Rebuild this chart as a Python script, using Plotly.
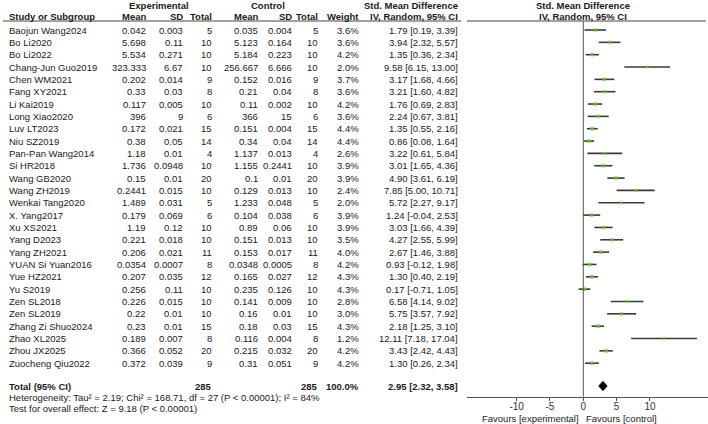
import plotly.graph_objects as go

studies = ["Baojun Wang2024", "Bo Li2020", "Bo Li2022", "Chang-Jun Guo2019", "Chen WM2021",
           "Fang XY2021", "Li Kai2019", "Long Xiao2020", "Luv LT2023", "Niu SZ2019",
           "Pan-Pan Wang2014", "Si HR2018", "Wang GB2020", "Wang ZH2019", "Wenkai Tang2020",
           "X. Yang2017", "Xu XS2021", "Yang D2023", "Yang ZH2021", "YUAN Si Yuan2016",
           "Yue HZ2021", "Yu S2019", "Zen SL2018", "Zen SL2019", "Zhang Zi Shuo2024",
           "Zhao XL2025", "Zhou JX2025", "Zuocheng Qiu2022"]
exp_mean = ["0.042", "5.698", "5.534", "323.333", "0.202", "0.33", "0.117", "396", "0.172", "0.38",
            "1.18", "1.736", "0.15", "0.2441", "1.489", "0.179", "1.19", "0.221", "0.206", "0.0354",
            "0.207", "0.256", "0.226", "0.22", "0.23", "0.189", "0.366", "0.372"]
exp_sd = ["0.003", "0.11", "0.271", "6.67", "0.014", "0.03", "0.005", "9", "0.021", "0.05",
          "0.01", "0.0948", "0.01", "0.015", "0.031", "0.069", "0.12", "0.018", "0.021", "0.0007",
          "0.035", "0.11", "0.015", "0.01", "0.01", "0.007", "0.052", "0.039"]
exp_n = [5, 10, 10, 10, 9, 8, 10, 6, 15, 14, 4, 10, 20, 10, 5, 6, 10, 10, 11, 8, 12, 10, 10, 10, 15, 8, 20, 9]
ctl_mean = ["0.035", "5.123", "5.184", "256.667", "0.152", "0.21", "0.11", "366", "0.151", "0.34",
            "1.137", "1.155", "0.1", "0.129", "1.233", "0.104", "0.89", "0.151", "0.153", "0.0348",
            "0.165", "0.235", "0.141", "0.16", "0.18", "0.116", "0.215", "0.31"]
ctl_sd = ["0.004", "0.164", "0.223", "6.666", "0.016", "0.04", "0.002", "15", "0.004", "0.04",
          "0.013", "0.2441", "0.01", "0.013", "0.048", "0.038", "0.06", "0.013", "0.017", "0.0005",
          "0.027", "0.126", "0.009", "0.01", "0.03", "0.004", "0.032", "0.051"]
ctl_n = [5, 10, 10, 10, 9, 8, 10, 6, 15, 14, 4, 10, 20, 10, 5, 6, 10, 10, 11, 8, 12, 10, 10, 10, 15, 8, 20, 9]
weight = [3.6, 3.6, 4.2, 2.0, 3.7, 3.6, 4.2, 3.6, 4.4, 4.4, 2.6, 3.9, 3.9, 2.4, 2.0, 3.9, 3.9, 3.5,
          4.0, 4.2, 4.3, 4.3, 2.8, 3.0, 4.3, 1.2, 4.2, 4.2]
smd = [1.79, 3.94, 1.35, 9.58, 3.17, 3.21, 1.76, 2.24, 1.35, 0.86, 3.22, 3.01, 4.90, 7.85, 5.72,
       1.24, 3.03, 4.27, 2.67, 0.93, 1.30, 0.17, 6.58, 5.75, 2.18, 12.11, 3.43, 1.30]
ci_lo = [0.19, 2.32, 0.36, 6.15, 1.68, 1.60, 0.69, 0.67, 0.55, 0.08, 0.61, 1.65, 3.61, 5.00, 2.27,
         -0.04, 1.66, 2.55, 1.46, -0.12, 0.40, -0.71, 4.14, 3.57, 1.25, 7.18, 2.42, 0.26]
ci_hi = [3.39, 5.57, 2.34, 13.00, 4.66, 4.82, 2.83, 3.81, 2.16, 1.64, 5.84, 4.36, 6.19, 10.71, 9.17,
         2.53, 4.39, 5.99, 3.88, 1.98, 2.19, 1.05, 9.02, 7.92, 3.10, 17.04, 4.43, 2.34]
total_exp_n = 285
total_ctl_n = 285
total_weight = "100.0%"
total_smd, total_lo, total_hi = 2.95, 2.32, 3.58
heterogeneity = "Heterogeneity: Tau² = 2.19; Chi² = 168.71, df = 27 (P < 0.00001); I² = 84%"
overall = "Test for overall effect: Z = 9.18 (P < 0.00001)"
tick_vals = [-10, -5, 0, 5, 10]
tick_text = ["-10", "-5", "0", "5", "10"]

W, H = 708, 424
FONT = "Liberation Sans, Arial, sans-serif"
FS = 9.5
TXT = "#1a1a1a"
ROW0, DY = 30.0, 12.34  # pixel of first row, row spacing


def row_of(py):
    return (py - ROW0) / DY


n = len(studies)
rows = list(range(n))
total_row = row_of(386)

fig = go.Figure()

# CI lines
lx, ly = [], []
for i in rows:
    lx += [ci_lo[i], ci_hi[i], None]
    ly += [i, i, None]
fig.add_trace(go.Scatter(x=lx, y=ly, mode="lines", line=dict(color="#3a3a3a", width=1.6),
                         hoverinfo="skip", showlegend=False))
# point estimates
fig.add_trace(go.Scatter(x=smd, y=rows, mode="markers",
                         marker=dict(symbol="square", color="#66cc33",
                                     size=[2.2 + 0.35 * w for w in weight], line=dict(width=0)),
                         showlegend=False))
# diamond
hh = 0.37
fig.add_trace(go.Scatter(x=[total_lo, total_smd, total_hi, total_smd, total_lo],
                         y=[total_row, total_row - hh, total_row, total_row + hh, total_row],
                         mode="lines", fill="toself", fillcolor="black",
                         line=dict(color="black", width=1), showlegend=False))

ann = []


def add(text, px, row, anchor="right", bold=False, yref="y"):
    ann.append(dict(text=f"<b>{text}</b>" if bold else text, x=px / W, xref="paper",
                    y=row, yref=yref, xanchor=anchor, yanchor="middle", showarrow=False,
                    borderpad=0, font=dict(family=FONT, size=FS, color=TXT)))


cols = [(exp_mean, 146.7), (exp_sd, 183.7), (exp_n, 212.7), (ctl_mean, 259.3),
        (ctl_sd, 292.7), (ctl_n, 319), ([f"{w:.1f}%" for w in weight], 360),
        ([f"{s:.2f} [{l:.2f}, {h:.2f}]" for s, l, h in zip(smd, ci_lo, ci_hi)], 458.7)]
for i in rows:
    add(studies[i], 8, i, anchor="left")
    for vals, px in cols:
        add(str(vals[i]), px, i)

# headers
hr1, hr2 = row_of(5), row_of(16.5)
add("Experimental", 159, hr1, anchor="center", bold=True)
add("Control", 267.5, hr1, anchor="center", bold=True)
add("Std. Mean Difference", 458.7, hr1, bold=True)
add("Std. Mean Difference", 583.3, hr1, anchor="center", bold=True)
add("Study or Subgroup", 8, hr2, anchor="left", bold=True)
for lab, px in [("Mean", 146.7), ("SD", 183.7), ("Total", 212.7), ("Mean", 259.3), ("SD", 292.7),
                ("Total", 319), ("Weight", 360), ("IV, Random, 95% CI", 458.7)]:
    add(lab, px, hr2, bold=True)
add("IV, Random, 95% CI", 583.3, hr2, anchor="center", bold=True)

# totals
add("Total (95% CI)", 8, total_row, anchor="left", bold=True)
add(str(total_exp_n), 212.7, total_row, bold=True)
add(str(total_ctl_n), 319, total_row, bold=True)
add(total_weight, 360, total_row, bold=True)
add(f"{total_smd:.2f} [{total_lo:.2f}, {total_hi:.2f}]", 458.7, total_row, bold=True)
add(heterogeneity, 8, row_of(397), anchor="left")
add(overall, 8, row_of(408), anchor="left")
add("Favours [experimental]", 579.5, row_of(418.5))
add("Favours [control]", 585, row_of(418.5), anchor="left")

axis_py = 396.7
head_py = 21
x_left_px, x_right_px, zero_px, ppu = 467.0, 708.0, 583.3, 6.667
shapes = [
    dict(type="line", xref="paper", yref="paper", x0=3 / W, x1=461 / W,
         y0=(H - head_py) / H, y1=(H - head_py) / H, line=dict(color="#444", width=1)),
    dict(type="line", xref="paper", yref="paper", x0=467 / W, x1=706 / W,
         y0=(H - head_py) / H, y1=(H - head_py) / H, line=dict(color="#444", width=1)),
    dict(type="line", xref="x", yref="paper", x0=0, x1=0,
         y0=(H - axis_py) / H, y1=(H - head_py) / H, line=dict(color="#555", width=1)),
]

fig.update_layout(
    width=W, height=H, margin=dict(l=0, r=0, t=0, b=0),
    paper_bgcolor="white", plot_bgcolor="rgba(0,0,0,0)",
    annotations=ann, shapes=shapes, showlegend=False,
    xaxis=dict(domain=[x_left_px / W, 1.0],
               range=[(x_left_px - zero_px) / ppu, (x_right_px - zero_px) / ppu],
               anchor="free", position=(H - axis_py) / H,
               showline=True, linecolor="#555", linewidth=1,
               ticks="outside", ticklen=3, tickcolor="#555", ticklabelstandoff=-3,
               tickvals=tick_vals, ticktext=tick_text,
               tickfont=dict(family=FONT, size=FS + 0.5, color="#333"),
               showgrid=False, zeroline=False, fixedrange=True),
    yaxis=dict(domain=[0, 1], range=[row_of(H), row_of(0)], visible=False,
               showgrid=False, zeroline=False, fixedrange=True),
)

fig.write_html("out.html")
